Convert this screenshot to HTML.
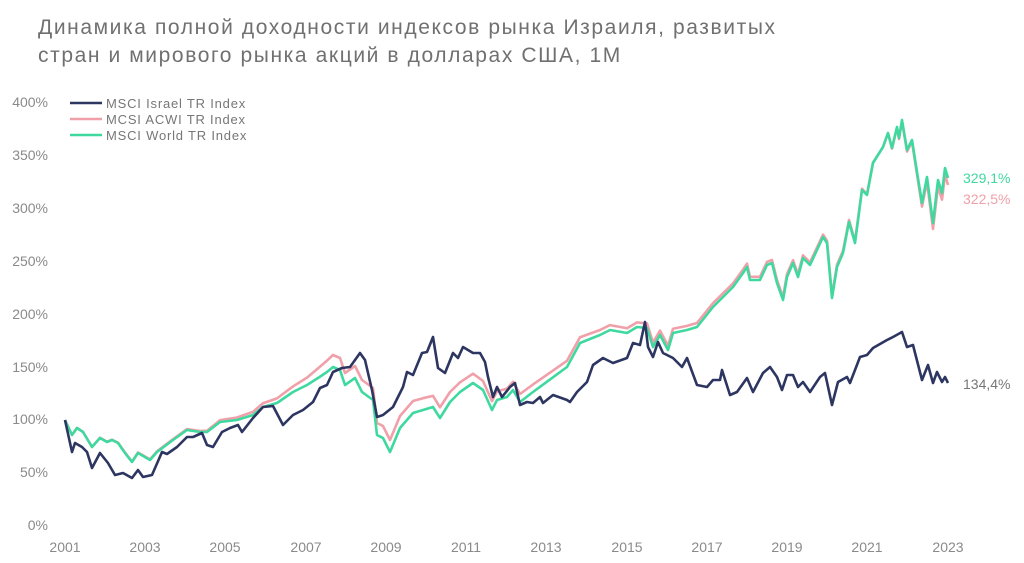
<!DOCTYPE html>
<html><head><meta charset="utf-8"><style>
body{margin:0;background:#fff;width:1024px;height:563px;overflow:hidden;font-family:"Liberation Sans",sans-serif}
.t{position:absolute;left:38px;top:14px;font-size:21px;line-height:28px;color:#707070;letter-spacing:1.6px}
</style></head><body>
<div class="t">Динамика полной доходности индексов рынка Израиля, развитых<br>стран и мирового рынка акций в долларах США, 1М</div>
<svg id="s" width="1024" height="563" style="position:absolute;left:0;top:0">
<g font-size="14" fill="#8a8a8a" font-family="Liberation Sans, sans-serif">
<text x="48" y="107" text-anchor="end">400%</text>
<text x="48" y="160" text-anchor="end">350%</text>
<text x="48" y="213" text-anchor="end">300%</text>
<text x="48" y="266" text-anchor="end">250%</text>
<text x="48" y="319" text-anchor="end">200%</text>
<text x="48" y="372" text-anchor="end">150%</text>
<text x="48" y="424" text-anchor="end">100%</text>
<text x="48" y="477" text-anchor="end">50%</text>
<text x="48" y="530" text-anchor="end">0%</text>
<g text-anchor="middle">
<text x="65" y="552">2001</text><text x="145" y="552">2003</text><text x="225" y="552">2005</text><text x="306" y="552">2007</text><text x="386" y="552">2009</text><text x="466" y="552">2011</text><text x="546" y="552">2013</text><text x="627" y="552">2015</text><text x="707" y="552">2017</text><text x="787" y="552">2019</text><text x="867" y="552">2021</text><text x="948" y="552">2023</text>
</g>
<text x="963" y="183" fill="#3fd9a0">329,1%</text>
<text x="963" y="204" fill="#f0a0a8">322,5%</text>
<text x="963" y="389" fill="#777">134,4%</text>
<g font-size="13" fill="#777" letter-spacing="0.8">
<text x="106" y="108">MSCI Israel TR Index</text>
<text x="106" y="124">MCSI ACWI TR Index</text>
<text x="106" y="140">MSCI World TR Index</text>
</g>
</g>
<line x1="70" y1="103" x2="102" y2="103" stroke="#2d3561" stroke-width="2.5"/>
<line x1="70" y1="119" x2="102" y2="119" stroke="#f0a0a8" stroke-width="2.5"/>
<line x1="70" y1="135" x2="102" y2="135" stroke="#3fd9a0" stroke-width="2.5"/>
</svg>
<script>
var G=[65,420,72,435,77,428,83,432,92,447,100,438,107,442,112,440,118,443,125,453,132,462,138,453,150,460,157,452,173,440,187,430,200,432,207,432,220,422,237,420,253,415,263,407,277,403,293,392,307,385,318,378,327,372,333,367,340,370,345,385,355,378,362,392,373,400,377,435,383,438,390,452,400,428,413,413,423,410,433,407,440,418,450,402,460,392,473,383,483,390,492,410,497,400,507,397,513,390,520,402,533,392,567,367,580,343,600,335,610,330,627,333,637,327,647,328,653,347,660,335,668,350,673,333,687,330,697,327,713,307,733,287,743,273,747,267,750,280,760,280,767,265,772,263,777,283,783,300,787,277,793,263,798,277,803,258,810,265,823,237,827,243,832,298,837,267,843,253,849,222,855,243,862,190,867,195,873,163,883,147,888,133,892,148,897,127,899,138,902,120,907,150,912,140,917,172,922,203,927,177,933,223,938,180,942,193,945,168,948,178];
var N=[65,420,72,452,75,443,82,447,87,452,92,468,100,453,108,463,115,475,123,473,132,478,138,470,143,477,152,475,162,452,167,454,177,447,187,437,193,437,202,433,207,445,213,447,222,432,230,428,238,425,242,432,253,418,263,407,273,406,283,425,293,415,303,410,313,402,320,388,327,385,333,372,342,368,350,367,360,353,365,360,372,390,377,417,383,415,393,407,403,387,407,372,413,375,422,353,427,352,433,337,438,368,445,373,453,353,458,358,463,347,473,353,480,353,485,362,488,377,493,397,497,387,502,397,510,387,515,383,520,405,527,402,533,403,540,397,543,403,553,395,567,400,570,402,577,392,587,382,593,365,603,358,613,363,627,358,633,343,640,345,645,322,648,347,653,357,658,342,663,353,673,358,682,367,687,358,697,385,707,387,713,380,720,380,722,370,730,395,737,392,747,378,753,392,763,373,770,367,777,377,782,390,787,375,793,375,798,387,803,382,810,392,820,377,825,373,832,405,838,382,847,377,850,383,860,357,867,355,873,348,887,340,893,337,902,332,907,347,913,345,922,380,928,365,933,383,937,372,942,382,945,377,948,383];
function off(x){var k=[[65,0],[200,-1],[250,-3],[300,-6],[330,-12],[420,-12],[450,-10],[520,-8],[600,-5],[700,-4],[850,-2],[915,2],[933,6],[948,7]];for(var i=1;i<k.length;i++){if(x<=k[i][0]){var a=k[i-1],b=k[i];return a[1]+(b[1]-a[1])*(x-a[0])/(b[0]-a[0]);}}return 7;}
var P=[];for(var i=0;i<G.length;i+=2){P.push(G[i],G[i+1]+off(G[i]));}
function pl(a,c){var p=document.createElementNS("http://www.w3.org/2000/svg","polyline");p.setAttribute("points",a.join(" "));p.setAttribute("fill","none");p.setAttribute("stroke",c);p.setAttribute("stroke-width","2.6");p.setAttribute("stroke-linejoin","round");document.getElementById("s").appendChild(p);}
pl(P,"#f0a0a8");pl(G,"#3fd9a0");pl(N,"#2d3561");
</script>
</body></html>
